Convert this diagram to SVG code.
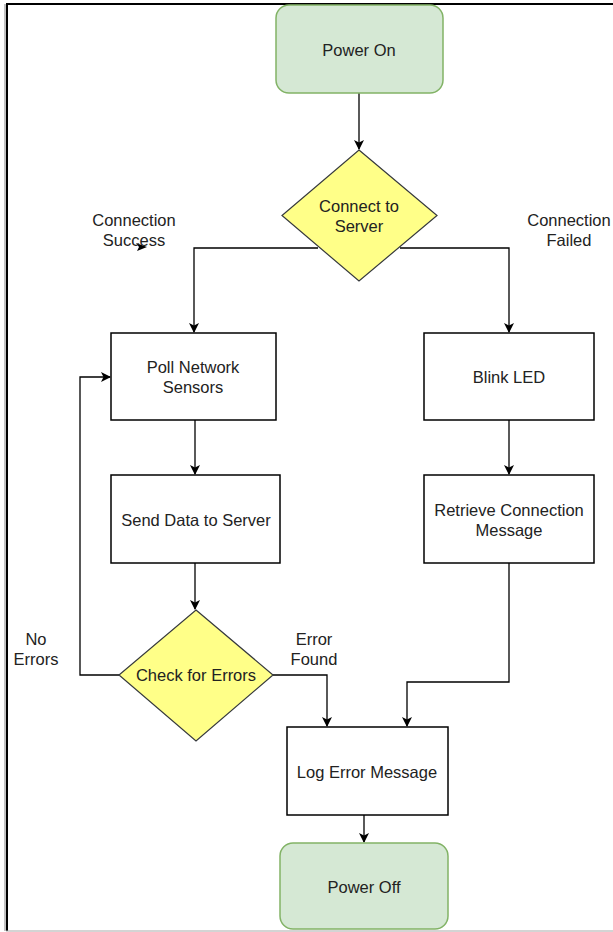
<svg xmlns="http://www.w3.org/2000/svg" width="613" height="932" viewBox="0 0 613 932">
<style>
  text { font-family: "Liberation Sans", Arial, sans-serif; font-size: 16.5px; fill: #222; text-anchor: middle; dominant-baseline: central; }
  .term { fill: #d5e8d4; stroke: #82b366; stroke-width: 1.5; }
  .proc { fill: #ffffff; stroke: #000000; stroke-width: 1.5; }
  .dec { fill: #ffff88; stroke: #36393d; stroke-width: 1.2; }
  .edge { fill: none; stroke: #000000; stroke-width: 1.3; }
</style>
<defs>
  <marker id="arr" viewBox="0 0 10 10" refX="9" refY="5" markerWidth="10" markerHeight="10" markerUnits="userSpaceOnUse" orient="auto">
    <path d="M0,0 L10,5 L0,10 L2.5,5 Z" fill="#000"/>
  </marker>
</defs>
<rect width="613" height="932" fill="#ffffff"/>
<g id="frame">
  <line x1="5" y1="4" x2="5" y2="931" stroke="#999" stroke-width="1.2"/>
  <line x1="7" y1="3" x2="7" y2="931" stroke="#000" stroke-width="2"/>
  <line x1="6" y1="4" x2="613" y2="4" stroke="#000" stroke-width="2.2"/>
  <line x1="6" y1="931" x2="613" y2="931" stroke="#aaa" stroke-width="1.2"/>
</g>
<g id="connectors">
  <path class="edge" d="M359,93 L359,149" marker-end="url(#arr)"/>
  <path class="edge" d="M318,248 L194,248 L194,332" marker-end="url(#arr)"/>
  <path class="edge" d="M400,248 L509,248 L509,332" marker-end="url(#arr)"/>
  <path class="edge" d="M195,420 L195,474" marker-end="url(#arr)"/>
  <path class="edge" d="M509,420 L509,474" marker-end="url(#arr)"/>
  <path class="edge" d="M195,563 L195,609" marker-end="url(#arr)"/>
  <path class="edge" d="M119,675 L80,675 L80,377 L110,377" marker-end="url(#arr)"/>
  <path class="edge" d="M273,675 L327,675 L327,726" marker-end="url(#arr)"/>
  <path class="edge" d="M509,563 L509,682 L407,682 L407,726" marker-end="url(#arr)"/>
  <path class="edge" d="M364,815 L364,842" marker-end="url(#arr)"/>
  <path d="M136,243 L147,247 L137,251 L139,247 Z" fill="#000"/>
</g>
<g id="power-on">
  <rect class="term" x="276" y="5" width="167" height="88" rx="13"/>
  <text x="359" y="50">Power On</text>
</g>
<g id="connect-to-server">
  <polygon class="dec" points="359,150 437,215.5 359,281 282,215.5"/>
  <text x="359" y="206">Connect to</text>
  <text x="359" y="226">Server</text>
</g>
<g id="label-success">
  <text x="134" y="220">Connection</text>
  <text x="134" y="240">Success</text>
</g>
<g id="label-failed">
  <text x="569" y="220">Connection</text>
  <text x="569" y="240">Failed</text>
</g>
<g id="poll-network-sensors">
  <rect class="proc" x="111" y="333" width="165" height="87"/>
  <text x="193" y="367">Poll Network</text>
  <text x="193" y="387">Sensors</text>
</g>
<g id="blink-led">
  <rect class="proc" x="424" y="333" width="170" height="87"/>
  <text x="509" y="377">Blink LED</text>
</g>
<g id="send-data">
  <rect class="proc" x="111" y="475" width="169" height="88"/>
  <text x="196" y="520">Send Data to Server</text>
</g>
<g id="retrieve-message">
  <rect class="proc" x="424" y="475" width="170" height="88"/>
  <text x="509" y="510">Retrieve Connection</text>
  <text x="509" y="530">Message</text>
</g>
<g id="check-errors">
  <polygon class="dec" points="196,610 273,675 196,741 119,675"/>
  <text x="196" y="675">Check for Errors</text>
</g>
<g id="label-no-errors">
  <text x="36" y="639">No</text>
  <text x="36" y="659">Errors</text>
</g>
<g id="label-error-found">
  <text x="314" y="639">Error</text>
  <text x="314" y="659">Found</text>
</g>
<g id="log-error">
  <rect class="proc" x="287" y="727" width="161" height="88"/>
  <text x="367" y="772">Log Error Message</text>
</g>
<g id="power-off">
  <rect class="term" x="280" y="843" width="168" height="86" rx="13"/>
  <text x="364" y="887">Power Off</text>
</g>
</svg>
